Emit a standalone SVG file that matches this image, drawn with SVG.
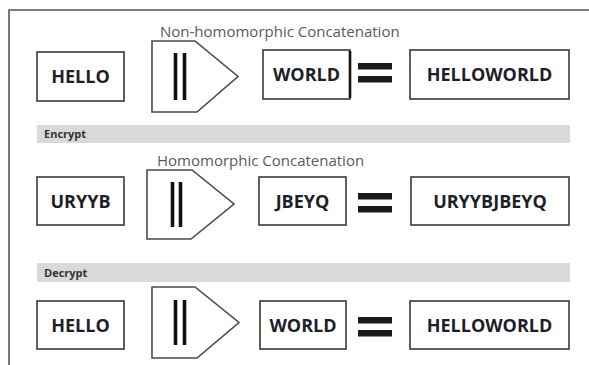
<svg xmlns="http://www.w3.org/2000/svg" width="589" height="365" viewBox="0 0 589 365">
<style>
.box{fill:#fff;stroke:#3a3a3a;stroke-width:1.6}
.op{fill:#fff;stroke:#4a4a4a;stroke-width:1.6;stroke-linejoin:miter}
.bar{stroke:#111;stroke-width:3.6}
.eq{fill:#1a1a1a}
.t{font-family:"Open Sans","Liberation Sans",sans-serif;font-weight:bold;font-size:18px;fill:#1e1e2a;text-anchor:middle}
.lbl{font-family:"Open Sans","Liberation Sans",sans-serif;font-size:15px;fill:#555a66}
.band{fill:#d9d9d9}
.bt{font-family:"Open Sans","Liberation Sans",sans-serif;font-weight:bold;font-size:11px;fill:#333}
.frame{stroke:#555;stroke-width:1.6;fill:none}
</style>
<rect width="589" height="365" fill="#fff"/>
<path class="frame" d="M9,366 V10 H589"/>

<g id="row1">
  <text class="lbl" x="160" y="37">Non-homomorphic Concatenation</text>
  <g id="r1-hello"><rect class="box" x="37" y="52" width="87" height="49"/><text class="t" x="80.5" y="83">HELLO</text></g>
  <g id="r1-concat"><path class="op" d="M152,41 H195 L238,76.5 L197,112 H152 Z"/><line class="bar" x1="175.5" y1="53" x2="175.5" y2="100"/><line class="bar" x1="184.5" y1="53" x2="184.5" y2="100"/></g>
  <g id="r1-world"><rect class="box" x="263" y="50" width="87" height="49"/><line x1="350" y1="51" x2="350" y2="98" stroke="#111" stroke-width="2.6"/><text class="t" x="306.5" y="81">WORLD</text></g>
  <g id="r1-eq"><rect class="eq" x="358" y="63" width="34" height="6.5"/><rect class="eq" x="358" y="76" width="34" height="6.5"/></g>
  <g id="r1-result"><rect class="box" x="410" y="50" width="159" height="49"/><text class="t" x="489.5" y="81">HELLOWORLD</text></g>
</g>

<g id="encrypt-band"><rect class="band" x="37" y="125" width="533" height="18"/><text class="bt" x="44" y="138">Encrypt</text></g>

<g id="row2">
  <text class="lbl" x="157" y="166">Homomorphic Concatenation</text>
  <g id="r2-uryyb"><rect class="box" x="37" y="177" width="87" height="48"/><text class="t" x="80.5" y="208">URYYB</text></g>
  <g id="r2-concat"><path class="op" d="M147,170 H192 L234,204 L191,239 H147 Z"/><line class="bar" x1="172.5" y1="182" x2="172.5" y2="227"/><line class="bar" x1="180.5" y1="182" x2="180.5" y2="227"/></g>
  <g id="r2-jbeyq"><rect class="box" x="259" y="177" width="87" height="48"/><text class="t" x="302.5" y="208">JBEYQ</text></g>
  <g id="r2-eq"><rect class="eq" x="358" y="193" width="34" height="6.5"/><rect class="eq" x="358" y="206" width="34" height="6.5"/></g>
  <g id="r2-result"><rect class="box" x="411" y="177" width="158" height="48"/><text class="t" x="490" y="208">URYYBJBEYQ</text></g>
</g>

<g id="decrypt-band"><rect class="band" x="37" y="263" width="533" height="19"/><text class="bt" x="44" y="277">Decrypt</text></g>

<g id="row3">
  <g id="r3-hello"><rect class="box" x="37" y="301" width="87" height="48"/><text class="t" x="80.5" y="332">HELLO</text></g>
  <g id="r3-concat"><path class="op" d="M152,287 H195 L239,322.5 L197,358 H152 Z"/><line class="bar" x1="175.5" y1="300" x2="175.5" y2="345"/><line class="bar" x1="184.5" y1="300" x2="184.5" y2="345"/></g>
  <g id="r3-world"><rect class="box" x="260" y="301" width="86" height="48"/><text class="t" x="303" y="332">WORLD</text></g>
  <g id="r3-eq"><rect class="eq" x="358" y="317" width="34" height="6.5"/><rect class="eq" x="358" y="330" width="34" height="6.5"/></g>
  <g id="r3-result"><rect class="box" x="410" y="301" width="159" height="48"/><text class="t" x="489.5" y="332">HELLOWORLD</text></g>
</g>

<g id="connectors"></g>
</svg>
